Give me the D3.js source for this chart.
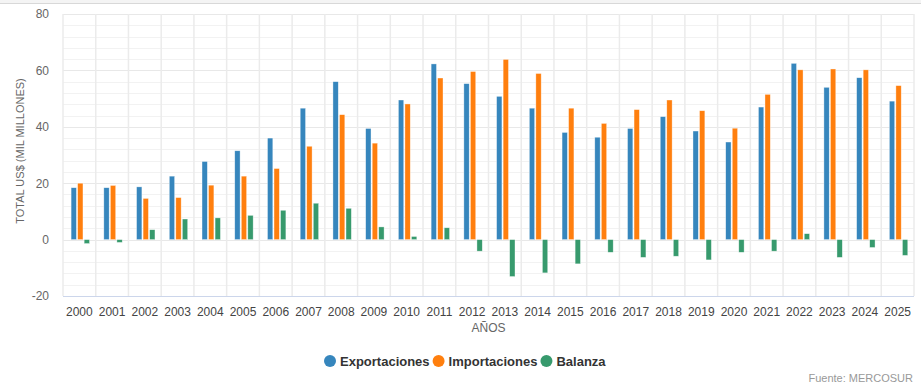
<!DOCTYPE html>
<html>
<head>
<meta charset="utf-8">
<script src="https://cdn.jsdelivr.net/npm/d3@7"></script>
<style>
  body { margin: 0; background: #fff; font-family: "Liberation Sans", Arial, sans-serif; }
  svg { display: block; }
</style>
</head>
<body>
<script>
const width = 921;
const height = 389;
const margin = { top: 14, right: 7, bottom: 93, left: 63 };

// data
const years = ["2000","2001","2002","2003","2004","2005","2006","2007","2008","2009","2010","2011","2012",
  "2013","2014","2015","2016","2017","2018","2019","2020","2021","2022","2023","2024","2025"];
const exportaciones = [18.4, 18.4, 18.7, 22.5, 27.7, 31.5, 36.0, 46.6, 56.0, 39.4, 49.5, 62.3, 55.3,
  50.8, 46.6, 38.0, 36.3, 39.4, 43.6, 38.5, 34.6, 47.0, 62.5, 54.0, 57.4, 49.1];
const importaciones = [20.0, 19.2, 14.6, 14.9, 19.3, 22.5, 25.2, 33.1, 44.3, 34.2, 48.1, 57.3, 59.6,
  63.9, 58.9, 46.6, 41.2, 46.1, 49.5, 45.7, 39.5, 51.5, 60.2, 60.5, 60.2, 54.6];
const balanza = [-1.4, -1.0, 3.5, 7.3, 7.7, 8.6, 10.4, 12.9, 11.1, 4.5, 1.1, 4.2, -4.1,
  -13.1, -11.8, -8.6, -4.5, -6.3, -5.9, -7.2, -4.5, -4.1, 2.1, -6.3, -2.8, -5.6];
const seriesNames = ["Exportaciones", "Importaciones", "Balanza"];
const seriesColors = ["#3686bd", "#ff7f0e", "#379a6d"];
const yTicks = [-20, 0, 20, 40, 60, 80];

const seriesValues = [exportaciones, importaciones, balanza];

const svg = d3.select("body").append("svg")
  .attr("width", width)
  .attr("height", height);

// top strip of the page frame
svg.append("rect").attr("x", 0).attr("y", 0).attr("width", width).attr("height", 3).attr("fill", "#f4f4f4");
svg.append("line").attr("x1", 0).attr("x2", width).attr("y1", 3.5).attr("y2", 3.5)
  .attr("stroke", "#d8d8d8").attr("stroke-width", 1);

const x0 = d3.scaleBand()
  .domain(years)
  .range([margin.left, width - margin.right])
  .padding(0);

const x1 = d3.scaleBand()
  .domain(seriesNames)
  .range([7.6, 27.2])
  .padding(0);

const y = d3.scaleLinear()
  .domain([-20, 80])
  .range([height - margin.bottom, margin.top]);

const g = svg.append("g");

// minor horizontal grid
g.append("g").selectAll("line")
  .data(d3.range(-20, 81, 4))
  .join("line")
  .attr("x1", margin.left).attr("x2", width - margin.right)
  .attr("y1", d => Math.round(y(d)) + 0.5).attr("y2", d => Math.round(y(d)) + 0.5)
  .attr("stroke", "#f2f2f2").attr("stroke-width", 1);

// major horizontal grid
g.append("g").selectAll("line")
  .data(yTicks)
  .join("line")
  .attr("x1", margin.left).attr("x2", width - margin.right)
  .attr("y1", d => Math.round(y(d)) + 0.5).attr("y2", d => Math.round(y(d)) + 0.5)
  .attr("stroke", "#e8e8e8").attr("stroke-width", 1);

// vertical grid at category boundaries
g.append("g").selectAll("line")
  .data(years.concat(["end"]))
  .join("line")
  .attr("x1", (d, i) => i < years.length ? x0(d) : x0.range()[1])
  .attr("x2", (d, i) => i < years.length ? x0(d) : x0.range()[1])
  .attr("y1", margin.top).attr("y2", height - margin.bottom)
  .attr("stroke", "#ebebeb").attr("stroke-width", 1.5);

// bars
const groups = g.append("g").selectAll("g")
  .data(years)
  .join("g")
  .attr("transform", d => `translate(${x0(d)},0)`);

groups.selectAll("rect")
  .data((d, i) => seriesNames.map((s, k) => ({ key: s, value: seriesValues[k][i], color: seriesColors[k] })))
  .join("rect")
  .attr("x", d => x1(d.key) + 0.5)
  .attr("width", x1.bandwidth() - 1.2)
  .attr("y", d => y(Math.max(0, d.value)))
  .attr("height", d => Math.abs(y(d.value) - y(0)))
  .attr("fill", d => d.color)
  .attr("stroke", "#ffffff")
  .attr("stroke-opacity", 0.6)
  .attr("stroke-width", 0.6);

// x axis line
g.append("line")
  .attr("x1", margin.left).attr("x2", width - margin.right)
  .attr("y1", height - margin.bottom + 0.5).attr("y2", height - margin.bottom + 0.5)
  .attr("stroke", "#ccd6eb").attr("stroke-width", 1);

// y axis labels (plain hyphen for negatives, like the original)
const yAxis = d3.axisLeft(y).tickValues(yTicks).tickSize(0).tickPadding(0)
  .tickFormat(d => String(d));
const ya = svg.append("g")
  .attr("transform", `translate(${margin.left - 14},0)`)
  .call(yAxis);
ya.select(".domain").remove();
ya.selectAll("text")
  .attr("fill", "#666")
  .style("font-size", "12px")
  .style("font-family", "'Liberation Sans', Arial, sans-serif");

// x axis labels
const xAxis = d3.axisBottom(x0).tickSize(0).tickPadding(0);
const xa = svg.append("g")
  .attr("transform", `translate(0,${height - margin.bottom + 11})`)
  .call(xAxis);
xa.select(".domain").remove();
xa.selectAll("text")
  .attr("fill", "#444")
  .style("font-size", "12px")
  .style("font-family", "'Liberation Sans', Arial, sans-serif");

// axis titles
svg.append("text")
  .attr("x", (margin.left + width - margin.right) / 2)
  .attr("y", 332)
  .attr("text-anchor", "middle")
  .attr("fill", "#666")
  .style("font-size", "12px")
  .text("AÑOS");

svg.append("text")
  .attr("transform", `translate(24,${(margin.top + height - margin.bottom) / 2 - 4}) rotate(-90)`)
  .attr("text-anchor", "middle")
  .attr("fill", "#666")
  .style("font-size", "11px")
  .text("TOTAL US$ (MIL MILLONES)");

// legend
const legend = svg.append("g").attr("transform", "translate(324,361)");
let lx = 0;
seriesNames.forEach((name, k) => {
  const item = legend.append("g").attr("transform", `translate(${lx},0)`);
  item.append("circle").attr("cx", 6).attr("cy", 0).attr("r", 6).attr("fill", seriesColors[k]);
  const t = item.append("text")
    .attr("x", 16).attr("y", 4.5)
    .attr("fill", "#333")
    .style("font-size", "13px")
    .style("font-weight", "bold")
    .text(name);
  lx += 16 + t.node().getComputedTextLength() + 3;
});

// source credit
svg.append("text")
  .attr("x", 913).attr("y", 382)
  .attr("text-anchor", "end")
  .attr("fill", "#999")
  .style("font-size", "11px")
  .text("Fuente: MERCOSUR");
</script>
</body>
</html>
